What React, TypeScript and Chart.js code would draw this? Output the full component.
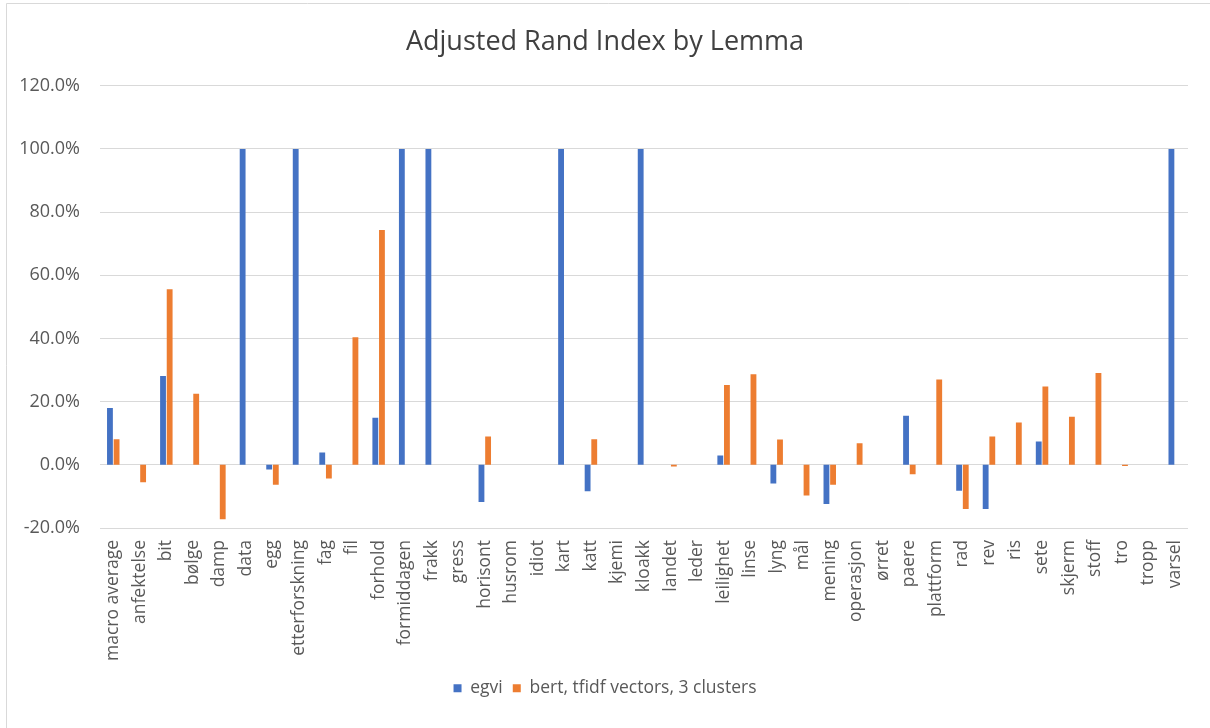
import React, { useEffect, useRef } from "react";
import { Chart, registerables } from "chart.js";

Chart.register(...registerables);

const categories = [
  "macro average", "anfektelse", "bit", "bølge", "damp", "data", "egg", "etterforskning",
  "fag", "fil", "forhold", "formiddagen", "frakk", "gress", "horisont", "husrom", "idiot",
  "kart", "katt", "kjemi", "kloakk", "landet", "leder", "leilighet", "linse", "lyng", "mål",
  "mening", "operasjon", "ørret", "paere", "plattform", "rad", "rev", "ris", "sete", "skjerm",
  "stoff", "tro", "tropp", "varsel",
];

const egviValues = [
  0.18, 0, 0.281, 0, 0, 1, -0.015, 1, 0.039, 0, 0.149, 1, 1, 0, -0.118, 0, 0, 1, -0.084, 0,
  1, 0, 0, 0.0295, 0, -0.059, 0, -0.124, 0, 0, 0.155, 0, -0.082, -0.14, 0, 0.074, 0, 0, 0, 0, 1,
];

const bertValues = [
  0.081, -0.055, 0.556, 0.225, -0.172, 0, -0.063, 0, -0.043, 0.404, 0.743, 0, 0, 0, 0.09, 0, 0,
  0, 0.081, 0, 0, -0.005, 0, 0.253, 0.287, 0.08, -0.097, -0.063, 0.068, 0, -0.03, 0.27, -0.14,
  0.09, 0.134, 0.248, 0.152, 0.291, -0.004, 0, 0,
];

const seriesNames = ["egvi", "bert, tfidf vectors, 3 clusters"];
const titleText = "Adjusted Rand Index by Lemma";

const FONT = "'Open Sans', 'DejaVu Sans', sans-serif";
const TEXT = "#595959";

const framePlugin = {
  id: "frame",
  beforeDraw(chart: any) {
    const { ctx, width, height } = chart;
    ctx.save();
    ctx.fillStyle = "#ffffff";
    ctx.fillRect(0, 0, width, height);
    ctx.strokeStyle = "#d9d9d9";
    ctx.lineWidth = 1;
    ctx.beginPath();
    ctx.moveTo(6.5, height);
    ctx.lineTo(6.5, 3.5);
    ctx.lineTo(width, 3.5);
    ctx.stroke();
    ctx.restore();
  },
};

export default function App() {
  const ref = useRef<HTMLCanvasElement | null>(null);

  useEffect(() => {
    if (!ref.current) return;
    const chart = new Chart(ref.current, {
      type: "bar",
      data: {
        labels: categories,
        datasets: [
          {
            label: seriesNames[0],
            data: egviValues,
            backgroundColor: "#4472C4",
            borderWidth: 0,
          },
          {
            label: seriesNames[1],
            data: bertValues,
            backgroundColor: "#ED7D31",
            borderWidth: 0,
          },
        ],
      },
      options: {
        animation: false,
        responsive: false,
        maintainAspectRatio: false,
        datasets: {
          bar: { categoryPercentage: 0.5, barPercentage: 0.88 },
        },
        layout: { padding: { left: 0, right: 0, top: 0, bottom: 21 } },
        plugins: {
          title: {
            display: true,
            text: titleText,
            color: "#404040",
            font: { family: FONT, size: 27, weight: "normal", lineHeight: 1.2 },
            padding: { top: 25.8, bottom: 27.5 },
          },
          legend: {
            position: "bottom",
            labels: {
              color: TEXT,
              font: { family: FONT, size: 17.5 },
              boxWidth: 8,
              boxHeight: 8,
              padding: 10,
            },
          },
          tooltip: { enabled: false },
        },
        scales: {
          x: {
            grid: { display: false, drawTicks: false },
            border: { display: false },
            ticks: {
              color: TEXT,
              font: { family: FONT, size: 17.5 },
              minRotation: 90,
              maxRotation: 90,
              autoSkip: false,
              padding: 12,
            },
            afterFit(scale: any) {
              scale.height = 141.5;
            },
          },
          y: {
            min: -0.2,
            max: 1.2,
            grid: { color: "#d9d9d9", drawTicks: false, lineWidth: 1 },
            border: { display: false },
            ticks: {
              stepSize: 0.2,
              color: TEXT,
              font: { family: FONT, size: 18 },
              padding: 20,
              callback: (v: any) => {
                const p = Math.round(Number(v) * 1000) / 10;
                return (p === 0 ? 0 : p).toFixed(1) + "%";
              },
            },
            afterFit(scale: any) {
              scale.width = 100;
            },
          },
          yRight: {
            position: "right",
            min: -0.2,
            max: 1.2,
            grid: { display: false, drawTicks: false },
            border: { display: false },
            ticks: { display: false },
            afterFit(scale: any) {
              scale.width = 22;
            },
          },
        },
      },
      plugins: [framePlugin],
    });
    return () => chart.destroy();
  }, []);

  return (
    <div style={{ position: "fixed", left: 0, top: 0, width: 1210, height: 728, background: "#fff" }}>
      <canvas ref={ref} width={1210} height={728} style={{ display: "block" }} />
    </div>
  );
}
